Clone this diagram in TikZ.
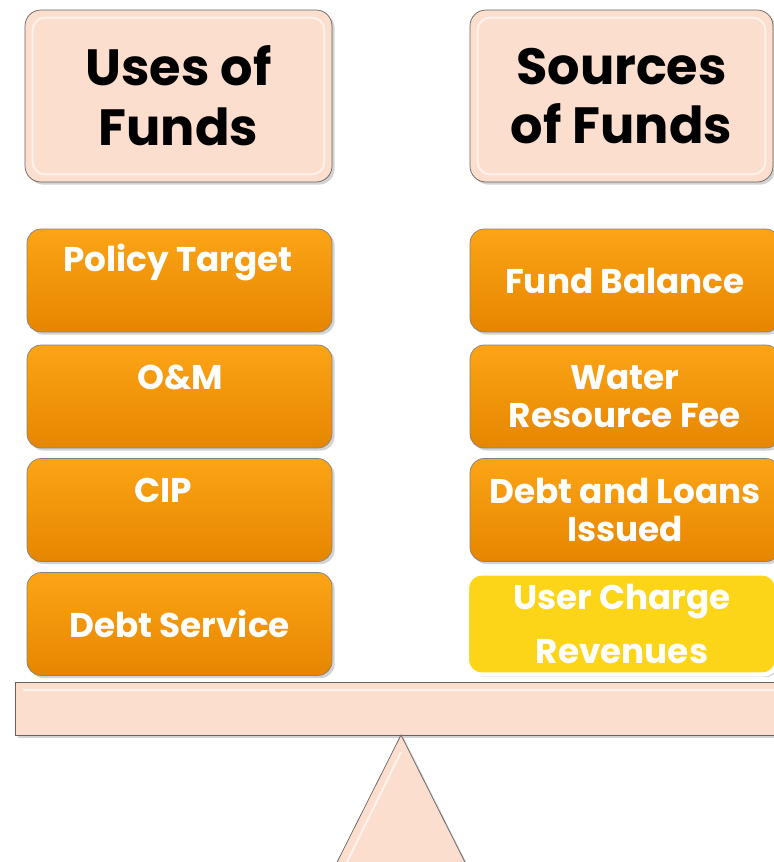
\documentclass[tikz,border=0pt]{standalone}
\usepackage{fontspec}
\setmainfont{Poppins}
\usetikzlibrary{shadows}

\definecolor{peach}{RGB}{251,222,206}
\definecolor{rim}{RGB}{105,98,95}
\definecolor{orangetop}{RGB}{252,164,22}
\definecolor{orangebot}{RGB}{230,134,0}
\definecolor{gold}{RGB}{253,213,24}

\tikzset{
  shade/.style={drop shadow={shadow xshift=1.5pt,shadow yshift=-1.5pt,opacity=.35}},
  head/.style={shade,draw=rim,fill=peach,rounded corners=9pt,
    minimum height=3.44cm,align=center,
    font=\fontsize{29}{34}\selectfont\bfseries},
  fund/.style={shade,draw=rim!80,top color=orangetop,bottom color=orangebot,
    rounded corners=8pt,minimum height=2.06cm,align=center,text=white,
    font=\fontsize{19.5}{21.5}\selectfont\bfseries},
  fundtext/.style={text=white,align=center,
    font=\fontsize{19.5}{21.5}\selectfont\bfseries},
  revenue/.style={fund,draw=white,line width=2.5pt,top color=gold,bottom color=gold},
  plank/.style={shade,draw=rim,fill=peach},
  bevel/.style={draw=white,line width=1.2pt,opacity=.6}
}

\begin{document}
\begin{tikzpicture}[x=0.02cm,y=-0.02cm]
\useasboundingbox (0,0) rectangle (774,862);

% headings
\node[head,minimum width=6.14cm] (uses) at (178.5,96) {Uses of\\Funds};
\node[head,minimum width=6.06cm] (sources) at (621.5,96) {Sources\\of Funds};
\draw[bevel,rounded corners=7pt] ([shift={(8,-8)}]uses.south west) rectangle ([shift={(-8,8)}]uses.north east);
\draw[bevel,rounded corners=7pt] ([shift={(8,-8)}]sources.south west) rectangle ([shift={(-8,8)}]sources.north east);

% uses
\node[fund,minimum width=6.1cm] (target) at (179.5,280.5) {};
\node[fundtext] (target-text) at (178,262) {Policy Target};
\node[fund,minimum width=6.1cm] (om) at (179.5,396.5) {};
\node[fundtext] (om-text) at (180,377) {O\&M};
\node[fund,minimum width=6.1cm] (cip) at (179.5,510) {};
\node[fundtext] (cip-text) at (163,490) {CIP};
\node[fund,minimum width=6.1cm] (service) at (179.5,624) {Debt Service};

% sources
\node[fund,minimum width=6.2cm] (balance) at (625,280.5) {Fund Balance};
\node[fund,minimum width=6.2cm] (fee) at (625,396.5) {Water\\Resource Fee};
\node[fund,minimum width=6.2cm] (loans) at (625,510) {Debt and Loans\\Issued};
\node[revenue,minimum width=6.2cm,minimum height=2.02cm] (charges) at (622,624)
  {User Charge\\[9pt]Revenues};

% beam and pivot
\draw[plank] (15,682) rectangle (790,735);
\draw[bevel] (23,690) -- (790,690);
\draw[plank] (401,735) -- (484,900) -- (318,900) -- cycle;
\draw[bevel] (401,752) -- (343,870);
\end{tikzpicture}
\end{document}
